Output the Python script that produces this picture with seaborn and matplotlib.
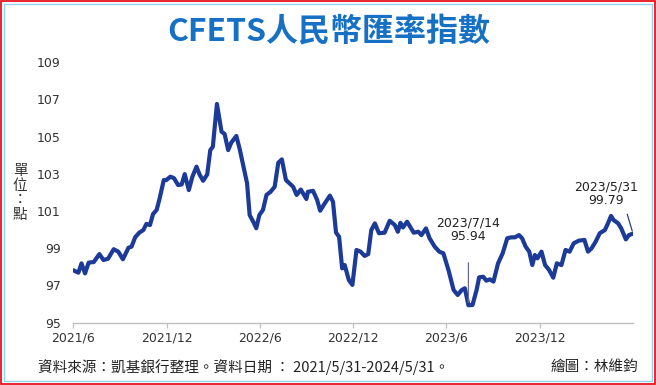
import matplotlib
matplotlib.use("Agg")
import matplotlib.pyplot as plt
from matplotlib.patches import Rectangle
import seaborn as sns
import pandas as pd

# ---------------- data ----------------
dates = [
    "2021-05-31", "2021-06-11", "2021-06-17", "2021-06-24", "2021-07-01", "2021-07-11",
    "2021-07-22", "2021-07-30", "2021-08-08", "2021-08-19", "2021-08-28", "2021-09-06",
    "2021-09-17", "2021-09-23", "2021-09-30", "2021-10-08", "2021-10-16", "2021-10-22",
    "2021-10-29", "2021-11-04", "2021-11-11", "2021-11-17", "2021-11-25", "2021-11-30",
    "2021-12-08", "2021-12-15", "2021-12-23", "2021-12-30", "2022-01-05", "2022-01-13",
    "2022-01-20", "2022-01-28", "2022-02-03", "2022-02-10", "2022-02-18", "2022-02-24",
    "2022-03-01", "2022-03-09", "2022-03-18", "2022-03-24", "2022-03-31", "2022-04-06",
    "2022-04-16", "2022-04-23", "2022-05-07", "2022-05-12", "2022-05-19", "2022-05-25",
    "2022-05-31", "2022-06-07", "2022-06-14", "2022-06-22", "2022-06-30", "2022-07-07",
    "2022-07-14", "2022-07-22", "2022-07-29", "2022-08-05", "2022-08-12", "2022-08-20",
    "2022-08-31", "2022-09-03", "2022-09-13", "2022-09-21", "2022-09-27", "2022-10-06",
    "2022-10-16", "2022-10-22", "2022-10-28", "2022-11-03", "2022-11-09", "2022-11-14",
    "2022-11-22", "2022-11-29", "2022-12-07", "2022-12-15", "2022-12-23", "2022-12-30",
    "2023-01-05", "2023-01-12", "2023-01-20", "2023-01-31", "2023-02-10", "2023-02-20",
    "2023-02-26", "2023-03-03", "2023-03-08", "2023-03-16", "2023-03-22", "2023-03-29",
    "2023-04-07", "2023-04-13", "2023-04-22", "2023-04-29", "2023-05-09", "2023-05-18",
    "2023-05-26", "2023-06-05", "2023-06-15", "2023-06-23", "2023-07-01", "2023-07-07",
    "2023-07-14", "2023-07-22", "2023-07-30", "2023-08-04", "2023-08-12", "2023-08-18",
    "2023-08-25", "2023-09-01", "2023-09-10", "2023-09-19", "2023-09-28", "2023-10-06",
    "2023-10-13", "2023-10-21", "2023-10-27", "2023-11-03", "2023-11-10", "2023-11-16",
    "2023-11-21", "2023-11-26", "2023-12-04", "2023-12-11", "2023-12-19", "2023-12-27",
    "2024-01-03", "2024-01-12", "2024-01-20", "2024-01-28", "2024-02-05", "2024-02-15",
    "2024-02-26", "2024-03-04", "2024-03-11", "2024-03-19", "2024-03-27", "2024-04-06",
    "2024-04-12", "2024-04-18", "2024-04-23", "2024-05-02", "2024-05-08", "2024-05-17",
    "2024-05-23", "2024-05-31",
]
index_values = [
    97.83, 97.69, 98.19, 97.65, 98.23, 98.26,
    98.69, 98.37, 98.44, 98.95, 98.82, 98.41,
    99.03, 99.09, 99.59, 99.84, 99.98, 100.31,
    100.25, 100.84, 101.06, 101.69, 102.67, 102.67,
    102.85, 102.77, 102.40, 102.43, 102.99, 102.13,
    102.85, 103.39, 102.97, 102.63, 102.97, 104.28,
    104.46, 106.76, 105.27, 105.15, 104.28, 104.68,
    105.04, 104.28, 102.49, 100.79, 100.43, 100.08,
    100.79, 101.06, 101.87, 102.04, 102.31, 103.60,
    103.78, 102.67, 102.49, 102.31, 101.87, 102.16,
    101.65, 102.04, 102.09, 101.60, 101.02, 101.42,
    101.83, 101.51, 99.84, 99.62, 97.92, 98.10,
    97.30, 97.03, 98.91, 98.82, 98.59, 98.69,
    99.98, 100.34, 99.81, 99.84, 100.48, 100.25,
    99.89, 100.37, 100.12, 100.43, 100.16, 99.84,
    99.89, 99.71, 100.07, 99.54, 99.09, 98.82,
    98.73, 97.83, 96.76, 96.49, 96.76, 96.85,
    95.94, 95.95, 96.76, 97.44, 97.47, 97.26,
    97.33, 97.21, 98.19, 98.73, 99.54, 99.59,
    99.59, 99.71, 99.54, 99.09, 98.82, 98.10,
    98.64, 98.46, 98.82, 98.10, 97.83, 97.42,
    98.19, 98.10, 98.91, 98.82, 99.27, 99.41,
    99.45, 98.82, 99.00, 99.36, 99.81, 99.98,
    100.34, 100.74, 100.52, 100.34, 100.07, 99.48,
    99.71, 99.79,
]
tick_dates = ["2021-06-01", "2021-12-01", "2022-06-01", "2022-12-01", "2023-06-01", "2023-12-01"]
tick_labels = ["2021/6", "2021/12", "2022/6", "2022/12", "2023/6", "2023/12"]
y_ticks = [95, 97, 99, 101, 103, 105, 107, 109]

low_date, low_value, low_label = "2023-07-14", 95.94, "2023/7/14\n95.94"
last_date, last_value, last_label = "2024-05-31", 99.79, "2023/5/31\n99.79"

title = "CFETS人民幣匯率指數"
y_label = "單\n位\n：\n點"
source_text = "資料來源：凱基銀行整理。資料日期 ： 2021/5/31-2024/5/31。"
credit_text = "繪圖：林維鈞"

# ---------------- style ----------------
sns.set_theme(style="white")
plt.rcParams["font.family"] = ["DejaVu Sans", "Noto Sans CJK TC"]
cjk = ["Noto Sans CJK TC", "DejaVu Sans"]

df = pd.DataFrame({"date": pd.to_datetime(dates), "value": index_values})

W, H = 656, 385
fig = plt.figure(figsize=(W / 100, H / 100), dpi=100)
fig.patch.set_facecolor("white")
ax = fig.add_axes([73.3 / W, 1 - 322.7 / H, (633 - 73.3) / W, (322.7 - 62.3) / H])

sns.lineplot(data=df, x="date", y="value", ax=ax, color="#1c3a98", linewidth=3.0)

ax.set_ylim(95, 109)
ax.set_xlim(pd.Timestamp("2021-06-01"), pd.Timestamp("2024-05-31"))
ax.set_yticks(y_ticks)
ax.set_yticklabels([str(v) for v in y_ticks])
ax.set_xticks(pd.to_datetime(tick_dates))
ax.set_xticklabels(tick_labels)
ax.set_xlabel("")
ax.set_ylabel("")

for s in ["top", "right", "left"]:
    ax.spines[s].set_visible(False)
ax.spines["bottom"].set_color("#bfbfbf")
ax.spines["bottom"].set_linewidth(1.0)
ax.tick_params(axis="x", direction="out", length=3.5, width=0.9, color="#bfbfbf",
               labelsize=9, labelcolor="#333333", pad=3, bottom=True)
ax.tick_params(axis="y", length=0, labelsize=9, labelcolor="#333333", pad=9)
ax.grid(False)

# annotations
ax.annotate(low_label, xy=(pd.Timestamp(low_date), low_value),
            xytext=(pd.Timestamp(low_date), 99.3), textcoords="data",
            ha="center", va="bottom", fontsize=9, color="#222222", linespacing=1.05,
            arrowprops=dict(arrowstyle="-", color="#6a6a9a", lw=0.9,
                            shrinkA=12, shrinkB=2, relpos=(0.5, 0.0)))
ax.annotate(last_label, xy=(pd.Timestamp(last_date), last_value),
            xytext=(pd.Timestamp("2024-04-08"), 101.22), textcoords="data",
            ha="center", va="bottom", fontsize=9, color="#222222", linespacing=1.05,
            arrowprops=dict(arrowstyle="-", color="#2a3a8a", lw=0.9,
                            shrinkA=3, shrinkB=2, relpos=(0.8, 0.0)),
            annotation_clip=False)

# texts
fig.text(328.5 / W, 1 - 31 / H, title, ha="center", va="center", fontsize=23,
         fontweight="bold", color="#1670c4", family=cjk)
fig.text(20 / W, 1 - 193 / H, y_label, ha="center", va="center", fontsize=10.5,
         color="#333333", family=cjk, linespacing=1.05)
fig.text(38 / W, 1 - 367 / H, source_text, ha="left", va="center", fontsize=10.5,
         color="#222222", family=cjk)
fig.text(638 / W, 1 - 367 / H, credit_text, ha="right", va="center", fontsize=10.5,
         color="#222222", family=cjk)

# borders
fig.patches.append(Rectangle((0.75 / W, 0.75 / H), (W - 1.5) / W, (H - 1.5) / H,
                             transform=fig.transFigure, fill=False,
                             edgecolor="#e8141c", linewidth=1.3))
fig.patches.append(Rectangle((4 / W, 4 / H), (W - 8) / W, (H - 8) / H,
                             transform=fig.transFigure, fill=False,
                             edgecolor="#8fd4f2", linewidth=1.0))

fig.savefig("out.png", dpi=100, facecolor="white")
